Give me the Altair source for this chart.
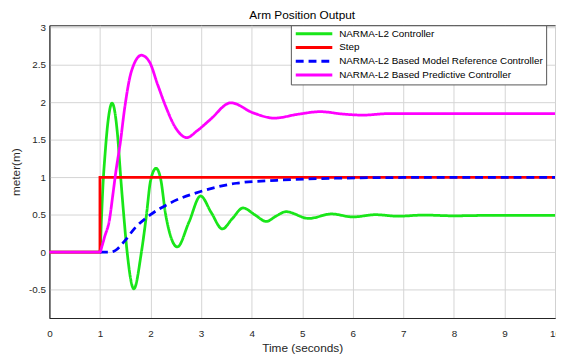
import altair as alt
import pandas as pd

series_names = [
    "NARMA-L2 Controller",
    "Step",
    "NARMA-L2 Based Model Reference Controller",
    "NARMA-L2 Based Predictive Controller",
]
series_colors = ["#19e619", "#ff0000", "#0000ff", "#ff00ff"]
series_dash = [[1, 0], [1, 0], [8, 5], [1, 0]]

x_ticks = [0, 1, 2, 3, 4, 5, 6, 7, 8, 9, 10]
y_ticks = [-0.5, 0, 0.5, 1, 1.5, 2, 2.5, 3]

green_t = [0, 1.0, 1.03, 1.06, 1.10, 1.16, 1.24, 1.35, 1.41, 1.47, 1.53, 1.67,
           1.82, 1.92, 2.0, 2.11, 2.2, 2.3, 2.53, 2.76, 2.99, 3.2, 3.42, 3.62,
           3.83, 4.06, 4.29, 4.48, 4.68, 5.13, 5.58, 6.0, 6.45, 6.9, 7.4, 8.0,
           8.6, 10]
green_v = [0, 0, 0.45, 0.9, 1.3, 1.75, 1.99, 1.55, 1.0, 0.5, 0.05, -0.49,
           0.0, 0.5, 0.95, 1.12, 0.98, 0.5, 0.07, 0.4, 0.75, 0.53, 0.31, 0.45,
           0.59, 0.5, 0.41, 0.48, 0.54, 0.45, 0.51, 0.47, 0.50, 0.48, 0.495, 0.485,
           0.49, 0.49]

step_t = [0, 1, 1, 10]
step_v = [0, 0, 1, 1]

blue_t = [1.0, 1.2, 1.3, 1.49, 1.69, 2.0, 2.4, 2.99, 3.7, 4.5, 5.65, 7.0, 10]
blue_v = [0, 0, 0.02, 0.15, 0.32, 0.5, 0.66, 0.81, 0.92, 0.96, 0.987, 0.997, 1.0]

mag_t = [0, 1.0, 1.04, 1.09, 1.19, 1.25, 1.32, 1.40, 1.49, 1.62, 1.82, 1.98,
         2.14, 2.31, 2.47, 2.72, 2.92, 3.18, 3.59, 4.03, 4.45, 4.9, 5.36, 5.8,
         6.2, 6.7, 7.5, 10]
mag_v = [0, 0, 0.08, 0.2, 0.44, 0.74, 1.1, 1.45, 1.93, 2.41, 2.63, 2.54,
         2.24, 1.93, 1.69, 1.53, 1.62, 1.77, 1.995, 1.86, 1.79, 1.84, 1.876, 1.845,
         1.83, 1.85, 1.85, 1.85]

rows = []
for name, ts, vs in zip(series_names, [green_t, step_t, blue_t, mag_t],
                        [green_v, step_v, blue_v, mag_v]):
    for i, (t, v) in enumerate(zip(ts, vs)):
        rows.append({"series": name, "t": t, "v": v, "i": i})
df = pd.DataFrame(rows)

FONT = "Liberation Sans"
legend = alt.Legend(
    orient="none", legendX=245, legendY=0, title=None,
    symbolType="M-5,0H5", symbolSize=55, symbolStrokeWidth=3,
    symbolOffset=15, labelOffset=20,
    labelFontSize=10, labelFont=FONT, labelColor="#000000", labelLimit=400,
    fillColor="white", strokeColor="#555555", padding=3, rowPadding=1,
)

color = alt.Color("series:N", scale=alt.Scale(domain=series_names, range=series_colors),
                  legend=legend, title=None)
dash = alt.StrokeDash("series:N", scale=alt.Scale(domain=series_names, range=series_dash),
                      legend=legend, title=None)

xaxis = alt.Axis(values=x_ticks, grid=True, gridColor="#d4d4d4", domainColor="#262626",
                 ticks=False, labelFontSize=10, labelFont=FONT, labelColor="#262626",
                 labelPadding=11, labelFlush=False, labelOverlap=False,
                 titleFontSize=12, titleFont=FONT, titleFontWeight="normal",
                 titleColor="#262626", titlePadding=4)
yaxis = alt.Axis(values=y_ticks, grid=True, gridColor="#d4d4d4", domainColor="#262626",
                 ticks=False, labelFontSize=10, labelFont=FONT, labelColor="#262626",
                 labelPadding=4, labelFlush=False, labelOverlap=False,
                 labelExpr="'' + datum.value",
                 titleFontSize=12, titleFont=FONT, titleFontWeight="normal",
                 titleColor="#262626", titlePadding=6)

base = alt.Chart(df).encode(
    x=alt.X("t:Q", scale=alt.Scale(domain=[0, 10], nice=False, zero=False),
            axis=xaxis, title="Time (seconds)"),
    y=alt.Y("v:Q", scale=alt.Scale(domain=[-0.88, 3.03], nice=False, zero=False),
            axis=yaxis, title="meter(m)"),
    color=color,
    strokeDash=dash,
    order=alt.Order("i:Q"),
)

layers = []
for name in series_names:
    interp = "linear" if name == "Step" else "monotone"
    layers.append(
        base.transform_filter(alt.datum.series == name)
        .mark_line(strokeWidth=2.8, interpolate=interp)
    )

chart = alt.layer(*layers).properties(
    width=513, height=297,
    title=alt.TitleParams("Arm Position Output", fontSize=12, fontWeight="normal",
                          font=FONT, color="#000000", offset=1, anchor="middle"),
    autosize=alt.AutoSizeParams(type="none"),
    padding={"left": 42, "top": 15, "right": 1, "bottom": 36},
).configure_view(stroke="#262626", strokeWidth=1)

chart.save("out.html", embed_options={"renderer": "svg", "actions": False})
